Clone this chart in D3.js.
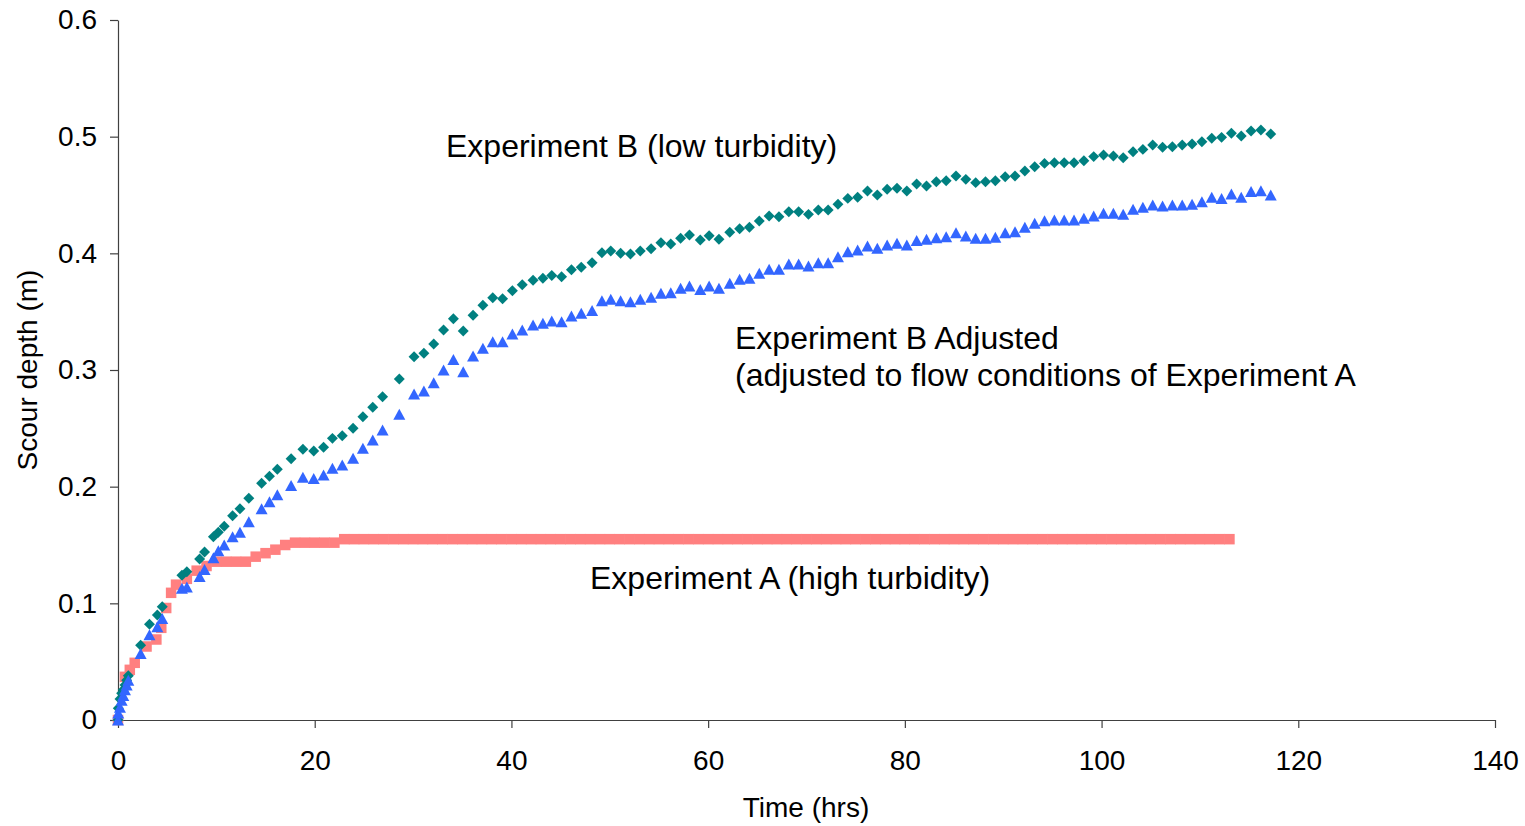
<!DOCTYPE html>
<html>
<head>
<meta charset="utf-8">
<script src="https://cdn.jsdelivr.net/npm/d3@7.9.0/dist/d3.min.js"></script>
<style>
  body { margin: 0; background: #fff; }
  text { font-family: "Liberation Sans", Arial, sans-serif; fill: #000; }
</style>
</head>
<body>
<svg id="chart" width="1525" height="826"></svg>
<script>
// Experiment A (high turbidity) - hours / scour depth (m)
const timesA = [0, 0.7, 1.2, 1.7, 2.9, 3.9, 4.4, 4.9, 5.4, 5.9,
  7, 8, 9, 10, 11, 12, 13, 14, 15, 16, 17, 18, 19, 20, 21, 22, 23,
  24, 25, 26, 27, 28, 29, 30, 31, 32, 33, 34, 35, 36, 37, 38, 39, 40, 41, 42, 43,
  44, 45, 46, 47, 48, 49, 50, 51, 52, 53, 54, 55, 56, 57, 58, 59, 60, 61, 62, 63,
  64, 65, 66, 67, 68, 69, 70, 71, 72, 73, 74, 75, 76, 77, 78, 79, 80, 81, 82, 83,
  84, 85, 86, 87, 88, 89, 90, 91, 92, 93, 94, 95, 96, 97, 98, 99, 100, 101, 102, 103,
  104, 105, 106, 107, 108, 109, 110, 111, 112, 113];
const depthA = [0, 0.037, 0.043, 0.049, 0.063, 0.069, 0.079, 0.096, 0.109, 0.116,
  0.121, 0.128, 0.132, 0.1357, 0.1357, 0.1357, 0.1357, 0.140, 0.143, 0.146, 0.150, 0.152, 0.152, 0.152, 0.152, 0.152, 0.155,
  0.155, 0.155, 0.155, 0.155, 0.155, 0.155, 0.155, 0.155, 0.155, 0.155, 0.155, 0.155, 0.155, 0.155, 0.155, 0.155, 0.155, 0.155, 0.155, 0.155,
  0.155, 0.155, 0.155, 0.155, 0.155, 0.155, 0.155, 0.155, 0.155, 0.155, 0.155, 0.155, 0.155, 0.155, 0.155, 0.155, 0.155, 0.155, 0.155, 0.155,
  0.155, 0.155, 0.155, 0.155, 0.155, 0.155, 0.155, 0.155, 0.155, 0.155, 0.155, 0.155, 0.155, 0.155, 0.155, 0.155, 0.155, 0.155, 0.155, 0.155,
  0.155, 0.155, 0.155, 0.155, 0.155, 0.155, 0.155, 0.155, 0.155, 0.155, 0.155, 0.155, 0.155, 0.155, 0.155, 0.155, 0.155, 0.155, 0.155, 0.155,
  0.155, 0.155, 0.155, 0.155, 0.155, 0.155, 0.155, 0.155, 0.155, 0.155];

// Experiment B (low turbidity) and B adjusted share the same times
const timesB = [0, 0.03, 0.2, 0.37, 0.54, 0.71, 0.88, 1.05,
  2.3, 3.2, 4.0, 4.5, 6.5, 7.0, 8.3, 8.8, 9.7, 10.2, 10.8, 11.65, 12.4, 13.3, 14.6, 15.4, 16.2, 17.6,
  18.8, 19.9, 20.9, 21.8, 22.8, 23.9, 24.9, 25.9, 26.9, 28.6,
  30.1, 31.1, 32.1, 33.1, 34.1, 35.1, 36.1, 37.1, 38.1, 39.1, 40.1, 41.1, 42.2, 43.2, 44.1, 45.1, 46.1,
  47.1, 48.2, 49.2, 50.1, 51.1, 52.1, 53.1, 54.2, 55.2, 56.2, 57.2, 58.1, 59.2, 60.1, 61.1, 62.2, 63.2,
  64.2, 65.2, 66.2, 67.2, 68.2, 69.2, 70.2, 71.2, 72.2, 73.2, 74.2, 75.2, 76.2, 77.2, 78.2, 79.2, 80.2, 81.2,
  82.2, 83.2, 84.2, 85.2, 86.2, 87.2, 88.2, 89.2, 90.2, 91.2, 92.2, 93.2, 94.2, 95.2, 96.2, 97.2, 98.2, 99.2,
  100.2, 101.2, 102.2, 103.2, 104.2, 105.2, 106.2, 107.2, 108.2, 109.2, 110.2, 111.2, 112.2, 113.2, 114.2,
  115.2, 116.2, 117.2];
const depthB = [0, 0.01, 0.018, 0.023, 0.026, 0.03, 0.034, 0.038,
  0.064, 0.082, 0.09, 0.097, 0.124, 0.127, 0.138, 0.144, 0.157, 0.161, 0.166, 0.175, 0.181, 0.19, 0.203, 0.209, 0.215, 0.224,
  0.232, 0.2306, 0.2337, 0.2414, 0.2437, 0.25, 0.26, 0.268, 0.2771, 0.2923,
  0.3114, 0.3143, 0.3223, 0.3343, 0.344, 0.3334, 0.347, 0.3555, 0.362, 0.361, 0.368, 0.373, 0.377, 0.3786, 0.381, 0.38, 0.386,
  0.388, 0.392, 0.4005, 0.402, 0.4, 0.3994, 0.402, 0.404, 0.409, 0.408, 0.413, 0.4157, 0.4114, 0.415, 0.412, 0.418, 0.421,
  0.4223, 0.4277, 0.432, 0.4314, 0.4357, 0.4357, 0.4334, 0.4371, 0.4371, 0.442, 0.4471, 0.448, 0.4534, 0.45, 0.4549, 0.4557, 0.4534, 0.4594,
  0.4577, 0.4614, 0.4623, 0.4663, 0.4634, 0.4606, 0.4614, 0.4623, 0.4657, 0.4663, 0.4706, 0.4743, 0.4771, 0.4777, 0.4777, 0.4777, 0.4794, 0.4829,
  0.4843, 0.4834, 0.482, 0.4871, 0.4891, 0.4929, 0.4909, 0.4914, 0.4929, 0.4937, 0.4957, 0.4986, 0.4994, 0.5029, 0.5006,
  0.5049, 0.5057, 0.5023];
const depthBAdj = [0, 0.006, 0.011, 0.017, 0.021, 0.026, 0.03, 0.034,
  0.057, 0.073, 0.08, 0.087, 0.113, 0.114, 0.123, 0.129, 0.139, 0.145, 0.15, 0.157, 0.161, 0.17, 0.181, 0.187, 0.193, 0.201,
  0.208, 0.207, 0.21, 0.2157, 0.2186, 0.2243, 0.2329, 0.24, 0.2486, 0.262,
  0.2794, 0.282, 0.289, 0.3, 0.309, 0.2986, 0.312, 0.3186, 0.3243, 0.3243, 0.3309, 0.3343, 0.3386, 0.34, 0.342, 0.3414, 0.3463,
  0.3486, 0.3509, 0.3594, 0.3606, 0.3594, 0.3586, 0.3606, 0.3623, 0.3657, 0.3663, 0.37, 0.372, 0.369, 0.372, 0.37, 0.3743, 0.3777,
  0.3786, 0.3829, 0.3863, 0.3863, 0.3909, 0.3909, 0.3891, 0.392, 0.392, 0.3971, 0.4014, 0.4029, 0.4063, 0.4043, 0.4071, 0.4086, 0.4071, 0.4109,
  0.412, 0.4134, 0.4143, 0.4177, 0.4149, 0.4129, 0.4129, 0.4137, 0.4177, 0.4186, 0.4223, 0.4257, 0.428, 0.4286, 0.4286, 0.4286, 0.43, 0.432,
  0.4343, 0.4343, 0.4334, 0.4377, 0.4394, 0.4414, 0.4406, 0.4414, 0.4414, 0.442, 0.4443, 0.448, 0.4471, 0.4509, 0.448,
  0.4529, 0.4537, 0.45];

const xTicks = [0, 20, 40, 60, 80, 100, 120, 140];
const yTicks = [0, 0.1, 0.2, 0.3, 0.4, 0.5, 0.6];

const svg = d3.select('#chart');

const x = d3.scaleLinear().domain([0, 140]).range([118, 1495]);
const y = d3.scaleLinear().domain([0, 0.6]).range([720, 20]);

// axes
const yAxis = d3.axisLeft(y)
  .tickValues(yTicks)
  .tickFormat(d => d === 0 ? '0' : d3.format('.1f')(d))
  .tickSize(8)
  .tickSizeOuter(0)
  .tickPadding(13);

const xAxis = d3.axisBottom(x)
  .tickValues(xTicks)
  .tickFormat(d3.format('d'))
  .tickSize(8)
  .tickSizeOuter(0)
  .tickPadding(22);

const gy = svg.append('g').attr('transform', 'translate(118,0)').call(yAxis);
const gx = svg.append('g').attr('transform', 'translate(0,720)').call(xAxis);

[gx, gy].forEach(g => {
  g.selectAll('path, line').attr('stroke', '#404040').attr('stroke-width', 1.2);
  g.selectAll('text').attr('font-size', 28).attr('fill', '#000')
    .attr('font-family', '"Liberation Sans", Arial, sans-serif');
});

// axis titles
svg.append('text')
  .attr('x', 806).attr('y', 817)
  .attr('text-anchor', 'middle')
  .attr('font-size', 28)
  .text('Time (hrs)');

svg.append('text')
  .attr('transform', 'translate(37,370) rotate(-90)')
  .attr('text-anchor', 'middle')
  .attr('font-size', 28)
  .text('Scour depth (m)');

// series
const dataA = timesA.map((t, i) => ({ t, v: depthA[i] }));
const dataB = timesB.map((t, i) => ({ t, v: depthB[i] }));
const dataAdj = timesB.map((t, i) => ({ t, v: depthBAdj[i] }));

const sq = 10.5;
svg.append('g').selectAll('rect')
  .data(dataA)
  .join('rect')
  .attr('x', d => x(d.t) - sq / 2)
  .attr('y', d => y(d.v) - sq / 2)
  .attr('width', sq)
  .attr('height', sq)
  .attr('fill', '#ff8080');

const diamond = d3.symbol().type(d3.symbolSquare).size(60);
svg.append('g').selectAll('path')
  .data(dataB)
  .join('path')
  .attr('d', diamond)
  .attr('transform', d => `translate(${x(d.t)},${y(d.v)}) rotate(45)`)
  .attr('fill', '#008080');

// triangle centred on its box, like the spreadsheet marker
const tw = 12, th = 11;
const triPath = `M0,${-th / 2}L${tw / 2},${th / 2}L${-tw / 2},${th / 2}Z`;
svg.append('g').selectAll('path')
  .data(dataAdj)
  .join('path')
  .attr('d', triPath)
  .attr('transform', d => `translate(${x(d.t)},${y(d.v)})`)
  .attr('fill', '#3366ff');

// annotations
const notes = [
  { text: 'Experiment B (low turbidity)', x: 446, y: 157 },
  { text: 'Experiment B Adjusted', x: 735, y: 349 },
  { text: '(adjusted to flow conditions of Experiment A', x: 735, y: 386 },
  { text: 'Experiment A (high turbidity)', x: 590, y: 589 }
];
svg.append('g').selectAll('text')
  .data(notes)
  .join('text')
  .attr('x', d => d.x)
  .attr('y', d => d.y)
  .attr('font-size', 32)
  .text(d => d.text);
</script>
</body>
</html>
